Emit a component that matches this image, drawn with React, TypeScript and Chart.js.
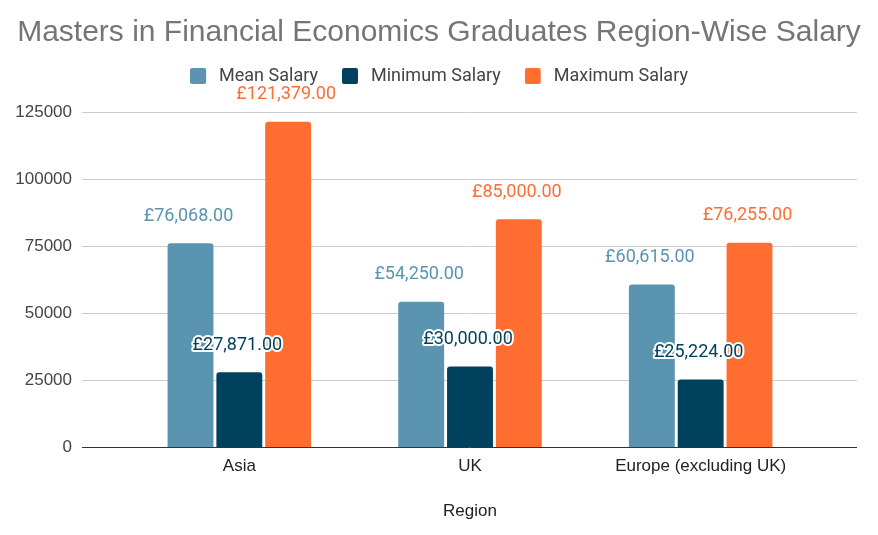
import React, { useEffect, useRef } from "react";
import { Chart, registerables } from "chart.js";

Chart.register(...registerables);

const categories = ["Asia", "UK", "Europe (excluding UK)"];
const meanSalary = [76068, 54250, 60615];
const minSalary = [27871, 30000, 25224];
const maxSalary = [121379, 85000, 76255];
const yTicks = [0, 25000, 50000, 75000, 100000, 125000];

const ROBOTO = "Roboto, 'Liberation Sans', Arial, sans-serif";
const ARIAL = "'Liberation Sans', Arial, sans-serif";

const fmt = (v: number) =>
  "£" + v.toLocaleString("en-GB", { minimumFractionDigits: 2, maximumFractionDigits: 2 });

const gridPlugin = {
  id: "customGrid",
  beforeDatasetsDraw(chart: any) {
    const { ctx } = chart;
    const y = chart.scales.y;
    ctx.save();
    yTicks.forEach((t) => {
      const py = Math.round(y.getPixelForValue(t)) + 0.5;
      ctx.beginPath();
      ctx.strokeStyle = t === 0 ? "#333333" : "#cccccc";
      ctx.lineWidth = 1;
      ctx.moveTo(82, py);
      ctx.lineTo(857, py);
      ctx.stroke();
    });
    ctx.restore();
  },
};

const labelPlugin = {
  id: "valueLabels",
  afterDatasetsDraw(chart: any) {
    const { ctx } = chart;
    ctx.save();
    ctx.font = `18px ${ROBOTO}`;
    ctx.textAlign = "center";
    ctx.textBaseline = "middle";
    chart.data.datasets.forEach((ds: any, di: number) => {
      const meta = chart.getDatasetMeta(di);
      meta.data.forEach((el: any, i: number) => {
        const txt = fmt(ds.data[i]);
        const x = el.x - 2;
        const yy = el.y - 27;
        if (di === 1) {
          ctx.lineWidth = 4;
          ctx.strokeStyle = "#ffffff";
          ctx.lineJoin = "round";
          ctx.strokeText(txt, x, yy);
        }
        ctx.fillStyle = ds.labelColor;
        ctx.fillText(txt, x, yy);
      });
    });
    ctx.restore();
  },
};

function makeSwatch(color: string) {
  const c = document.createElement("canvas");
  c.width = 20;
  c.height = 16;
  const g = c.getContext("2d")!;
  g.fillStyle = color;
  g.beginPath();
  (g as any).roundRect(0, 0, 16, 16, 2);
  g.fill();
  return c;
}

export default function App() {
  const ref = useRef<HTMLCanvasElement>(null);
  useEffect(() => {
    document.body.style.margin = "0";
    const colors = ["#5a94b0", "#00425e", "#ff6d31"];
    const swatches = colors.map(makeSwatch);
    const chart = new Chart(ref.current!, {
      type: "bar",
      data: {
        labels: categories,
        datasets: [
          {
            label: "Mean Salary",
            data: meanSalary,
            backgroundColor: colors[0],
            labelColor: colors[0],
            borderRadius: { topLeft: 3, topRight: 3 },
          } as any,
          {
            label: "Minimum Salary",
            data: minSalary,
            backgroundColor: colors[1],
            labelColor: colors[1],
            borderRadius: { topLeft: 3, topRight: 3 },
          } as any,
          {
            label: "Maximum Salary",
            data: maxSalary,
            backgroundColor: colors[2],
            labelColor: colors[2],
            borderRadius: { topLeft: 3, topRight: 3 },
          } as any,
        ],
      },
      plugins: [gridPlugin, labelPlugin],
      options: {
        animation: false,
        responsive: false,
        maintainAspectRatio: false,
        categoryPercentage: 0.635,
        barPercentage: 0.94,
        layout: { padding: 0 },
        plugins: {
          title: {
            display: true,
            text: "Masters in Financial Economics Graduates Region-Wise Salary",
            color: "#757575",
            font: { family: ARIAL, size: 30, weight: "normal", lineHeight: 0.67 },
            padding: { top: 23, bottom: 0 },
          },
          legend: {
            display: true,
            labels: {
              color: "#444444",
              font: { family: ROBOTO, size: 18 },
              boxWidth: 20,
              boxHeight: 16,
              usePointStyle: true,
              pointStyleWidth: 20,
              padding: 24,
              generateLabels(ch: any) {
                const items = (Chart as any).defaults.plugins.legend.labels.generateLabels(ch);
                return items.map((it: any, i: number) => ({
                  ...it,
                  pointStyle: swatches[i],
                }));
              },
            },
          },
          tooltip: { enabled: false },
        },
        scales: {
          x: {
            grid: { display: false, drawTicks: false },
            border: { display: false },
            afterFit(scale: any) {
              scale.height = 88;
            },
            ticks: {
              color: "#222222",
              font: { family: ARIAL, size: 17 },
              padding: 9,
            },
            title: {
              display: true,
              text: "Region",
              color: "#222222",
              font: { family: ARIAL, size: 17 },
              padding: { top: 10, bottom: 13 },
            },
          },
          xTop: {
            type: "category",
            position: "top",
            grid: { display: false },
            border: { display: false },
            ticks: { display: false },
            afterFit(scale: any) {
              scale.height = 17;
            },
          },
          y: {
            min: 0,
            max: 125000,
            grid: { display: false, drawTicks: false },
            border: { display: false },
            afterFit(scale: any) {
              scale.width = 124;
            },
            ticks: {
              stepSize: 25000,
              color: "#444444",
              font: { family: ARIAL, size: 17 },
              padding: 52,
              callback: (v: any) => String(v),
            },
          },
          yRight: {
            type: "linear",
            position: "right",
            min: 0,
            max: 125000,
            grid: { display: false },
            border: { display: false },
            ticks: { display: false },
            afterFit(scale: any) {
              scale.width = 62;
            },
          },
        },
      } as any,
    });
    return () => chart.destroy();
  }, []);
  return (
    <div style={{ width: 878, height: 535 }}>
      <canvas ref={ref} width={878} height={535} style={{ display: "block" }} />
    </div>
  );
}
